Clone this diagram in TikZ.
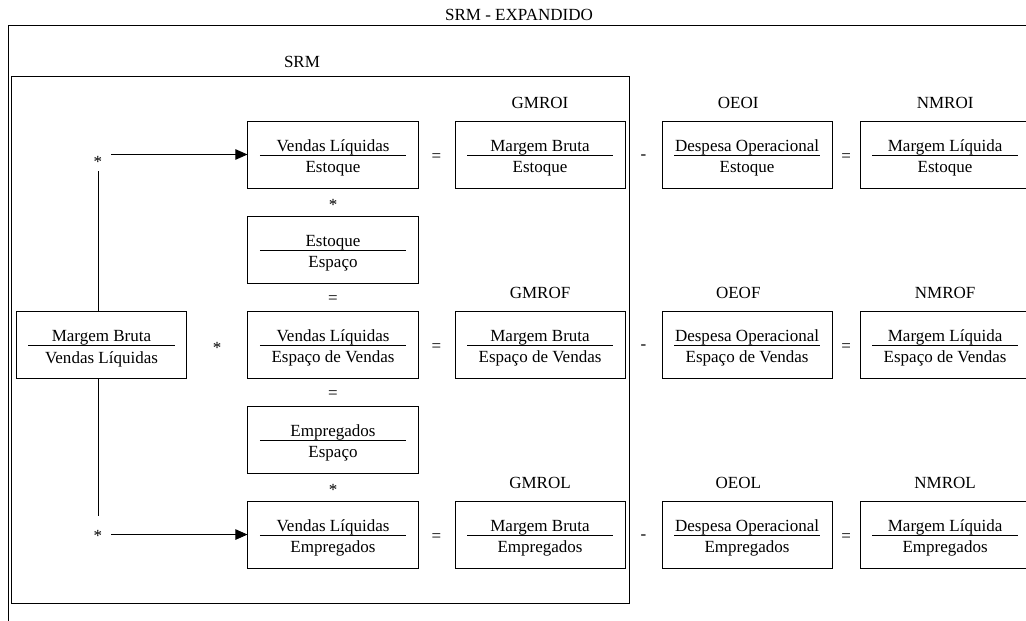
\documentclass[tikz,border=0pt]{standalone}
\usepackage{fontspec}
\setmainfont{Liberation Serif}
\usetikzlibrary{positioning,arrows.meta}
\newcommand{\fracao}[2]{{\renewcommand{\arraystretch}{0}\setlength{\arrayrulewidth}{.6pt}%
  \begin{tabular}{@{}c@{}}\rule[-2pt]{0pt}{15pt}\makebox[3.65cm]{#1}\\\hline\rule{0pt}{12pt}#2\end{tabular}}}

\begin{document}
\begin{tikzpicture}[x=.025cm,y=-.025cm,
  font=\fontsize{12.1}{14.5}\selectfont,
  razao/.style={draw,line width=.7pt,inner sep=0pt,minimum width=4.25cm,minimum height=1.675cm},
  rotulo/.style={inner sep=0pt},
  op/.style={inner sep=0pt,yshift=-.075cm},
  moldura/.style={line width=.7pt},
  seta/.style={line width=.7pt,-{Triangle[length=3mm,width=2.6mm]}}
]
  \useasboundingbox (0,0) rectangle (1026,620);
  \clip (0,0) rectangle (1026,620);
  % molduras
  \draw[moldura] (8,25) rectangle (1060,660);
  \draw[moldura] (11,76) rectangle (629,603);
  \node[rotulo] (tExp) at (519,15) {SRM - EXPANDIDO};
  \node[rotulo] (tSrm) at (302,62) {SRM};
  % coluna central
  \node[razao] (vlEst) at (333,154.5) {\fracao{Vendas Líquidas}{Estoque}};
  \node[razao,below=.675cm of vlEst] (estEsp) {\fracao{Estoque}{Espaço}};
  \node[razao,below=.675cm of estEsp] (vlEspV) {\fracao{Vendas Líquidas}{Espaço de Vendas}};
  \node[razao,below=.675cm of vlEspV] (empEsp) {\fracao{Empregados}{Espaço}};
  \node[razao,below=.675cm of empEsp] (vlEmp) {\fracao{Vendas Líquidas}{Empregados}};
  \path (vlEst) -- node[op] (m1) {*} (estEsp);
  \path (estEsp) -- node[op] (i1) {=} (vlEspV);
  \path (vlEspV) -- node[op] (i2) {=} (empEsp);
  \path (empEsp) -- node[op] (m2) {*} (vlEmp);
  % margem bruta
  \node[razao] (mbVl) at (101.5,345) {\fracao{Margem Bruta}{Vendas Líquidas}};
  \path (mbVl.east) -- node[op] (m3) {*} (vlEspV.west);
  \node[op] (astA) at (98,159) {*};
  \node[op] (astB) at (98,533) {*};
  \draw[moldura] ([yshift=-.08cm]astA.south) -- (astA.south |- mbVl.north);
  \draw[moldura] (astB.north |- mbVl.south) -- ([yshift=.35cm]astB.north);
  \draw[seta] ([xshift=.22cm]astA.east |- vlEst.west) -- (vlEst.west);
  \draw[seta] ([xshift=.22cm]astB.east |- vlEmp.west) -- (vlEmp.west);
  % GMRO, OEO, NMRO
  \foreach \s/\den/\base in {I/Estoque/vlEst, F/Espaço de Vendas/vlEspV, L/Empregados/vlEmp}{
    \node[razao,right=.9cm of \base] (gmro\s) {\fracao{Margem Bruta}{\den}};
    \node[razao,right=.9cm of gmro\s] (oeo\s) {\fracao{Despesa Operacional}{\den}};
    \node[razao,right=.675cm of oeo\s] (nmro\s) {\fracao{Margem Líquida}{\den}};
    \node[rotulo,above=.285cm of gmro\s] (lgmro\s) {GMRO\s};
    \node[rotulo,above=.285cm of oeo\s,xshift=-.22cm] (loeo\s) {OEO\s};
    \node[rotulo,above=.285cm of nmro\s] (lnmro\s) {NMRO\s};
    \path (\base) -- node[op] (eqa\s) {=} (gmro\s);
    \path (gmro\s) -- node[op] (men\s) {-} (oeo\s);
    \path (oeo\s) -- node[op] (eqb\s) {=} (nmro\s);
  }
\end{tikzpicture}
\end{document}
